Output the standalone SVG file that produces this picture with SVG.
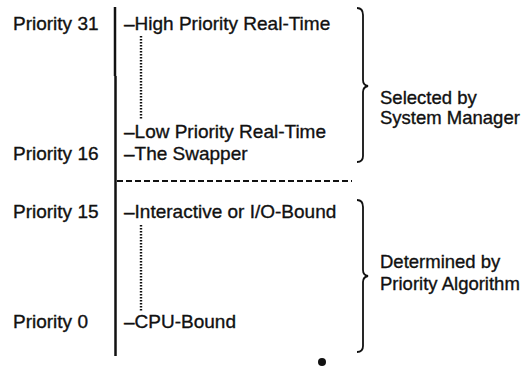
<svg xmlns="http://www.w3.org/2000/svg" width="531" height="372" viewBox="0 0 531 372">
<style>
text{font-family:"Liberation Sans",Arial,sans-serif;font-size:19px;fill:#111;stroke:#111;stroke-width:0.35}
.r{font-size:18.5px}
.ax{stroke:#111;stroke-width:2.5;fill:none}
.dot{stroke:#111;stroke-width:2.4;stroke-dasharray:1.6 1.4;fill:none}
.dash{stroke:#111;stroke-width:1.8;stroke-dasharray:6 3;fill:none}
.br{stroke:#111;stroke-width:1.8;fill:none}
</style>
<rect width="531" height="372" fill="#fff"/>
<g id="connectors">
<line class="ax" x1="115" y1="7" x2="115" y2="76"/>
<line class="ax" x1="115.5" y1="76" x2="115.5" y2="356"/>
<line class="dash" x1="117" y1="181" x2="352" y2="181"/>
<line class="dot" x1="141" y1="36" x2="141" y2="120"/>
<line class="dot" x1="141" y1="225" x2="141" y2="312"/>
</g>
<g id="labels-left">
<text x="13" y="30">Priority 31</text>
<text x="13" y="160">Priority 16</text>
<text x="13" y="218">Priority 15</text>
<text x="13" y="328">Priority 0</text>
</g>
<g id="levels">
<text x="124" y="30">–High Priority Real-Time</text>
<text x="124" y="138">–Low Priority Real-Time</text>
<text x="124" y="160">–The Swapper</text>
<text x="124" y="218">–Interactive or I/O-Bound</text>
<text x="124" y="328">–CPU-Bound</text>
</g>
<g id="brace-top">
<path class="br" d="M357 8 Q363 8 363 15 L363 80 Q363 85 368 86 Q363 87 363 92 L363 156 Q363 162 357 162"/>
<text class="r" x="380" y="104">Selected by</text>
<text class="r" x="380" y="124">System Manager</text>
</g>
<g id="brace-bottom">
<path class="br" d="M357 200 Q363 200 363 207 L363 270 Q363 275 368 276 Q363 277 363 282 L363 346 Q363 352 357 352"/>
<text class="r" x="380" y="268">Determined by</text>
<text class="r" x="380" y="290">Priority Algorithm</text>
</g>
<circle cx="322" cy="362" r="4" fill="#111"/>
</svg>
